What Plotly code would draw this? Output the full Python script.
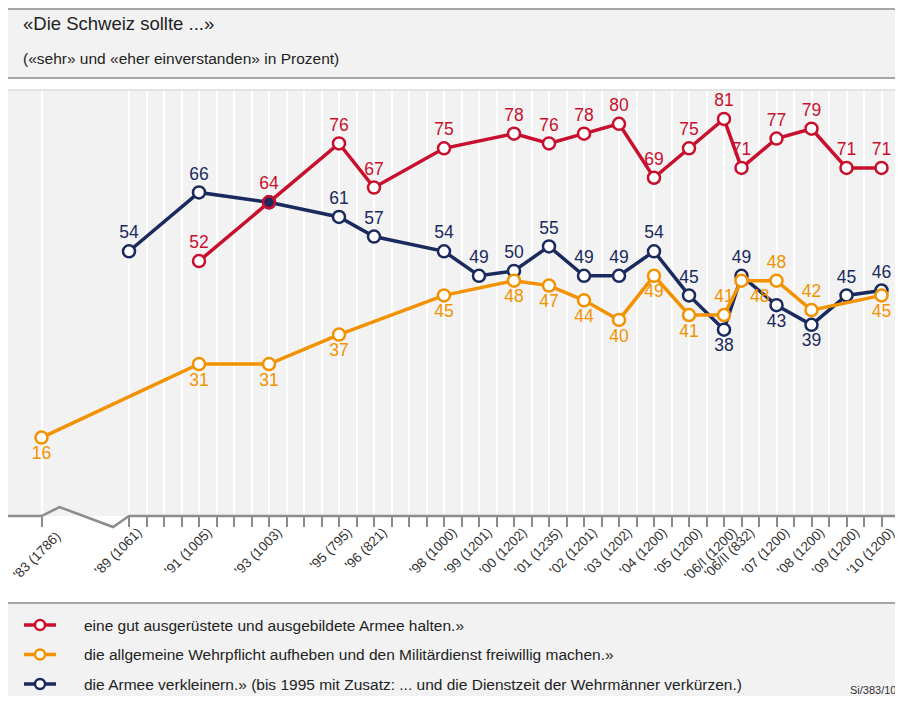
import plotly.graph_objects as go

# survey waves (year, sample size in label)
wellen = ["'83 (1786)", "'89 (1061)", "'91 (1005)", "'93 (1003)", "'95 (795)", "'96 (821)",
          "'98 (1000)", "'99 (1201)", "'00 (1202)", "'01 (1235)", "'02 (1201)", "'03 (1202)",
          "'04 (1200)", "'05 (1200)", "'06/I (1200)", "'06/II (832)", "'07 (1200)",
          "'08 (1200)", "'09 (1200)", "'10 (1200)"]
jahr = [1983, 1989, 1991, 1993, 1995, 1996, 1998, 1999, 2000, 2001, 2002, 2003,
        2004, 2005, 2006, 2006.5, 2007, 2008, 2009, 2010]

armee_halten = [None, None, 52, 64, 76, 67, 75, None, 78, 76, 78, 80, 69, 75, 81, 71, 77, 79, 71, 71]
wehrpflicht_aufheben = [16, None, 31, 31, 37, None, 45, None, 48, 47, 44, 40, 49, 41, 41, 48, 48, 42, None, 45]
armee_verkleinern = [None, 54, 66, 64, 61, 57, 54, 49, 50, 55, 49, 49, 54, 45, 38, 49, 43, 39, 45, 46]

legend_texts = ["eine gut ausgerüstete und ausgebildete Armee halten.»",
                "die allgemeine Wehrpflicht aufheben und den Militärdienst freiwillig machen.»",
                "die Armee verkleinern.» (bis 1995 mit Zusatz: ... und die Dienstzeit der Wehrmänner verkürzen.)"]

RED = "#c8102e"
ORANGE = "#f39200"
NAVY = "#1b2a5e"
FONT = "Liberation Sans, Arial, sans-serif"


#axis position: half-year slots from '89, extra slot for 06/II, axis break before '89
def slot(y):
    if y < 1989:
        return -5
    s = 2 * (y - 1989)
    if y >= 2007:
        s += 1
    return s


xs = [slot(y) for y in jahr]

#page has 8px body margin -> figure sits at (8,8) in the window, keep it inside (no scrollbar)
OFF = 8
W, H = 903 - OFF, 704 - 2 * OFF
PLOT_TOP, PLOT_BOT = 90, 516   # window pixels
T = PLOT_TOP - OFF
B = H - (PLOT_BOT - OFF)
PW = W
PH = PLOT_BOT - PLOT_TOP
SLOT_PX = 17.5
X0_PX = 129  # window pixel of slot 0
BOTTOM = OFF + H


def xp(px):
    return (px - OFF) / PW


def yp(py):
    return (PLOT_BOT - py) / PH


x_left = (OFF - X0_PX) / SLOT_PX
x_right = (903 - X0_PX) / SLOT_PX

fig = go.Figure()

#navy: labels above except a few below
pos_navy = ["top center"] * len(xs)
for i in [14, 16, 17]:
    pos_navy[i] = "bottom center"
txt_navy = ["" if v is None else str(v) for v in armee_verkleinern]
txt_navy[3] = ""
fig.add_trace(go.Scatter(
    x=xs, y=armee_verkleinern, mode="lines+markers+text", connectgaps=True,
    line=dict(color=NAVY, width=3.5),
    marker=dict(size=12, color="white", line=dict(color=NAVY, width=2.5)),
    text=txt_navy, textposition=pos_navy,
    textfont=dict(color=NAVY, size=17.5, family=FONT), cliponaxis=False, showlegend=False))

#orange: labels below except a few above
pos_or = ["bottom center"] * len(xs)
for i in [14, 16, 17]:
    pos_or[i] = "top center"
pos_or[15] = "bottom right"
fig.add_trace(go.Scatter(
    x=xs, y=wehrpflicht_aufheben, mode="lines+markers+text", connectgaps=True,
    line=dict(color=ORANGE, width=3.5),
    marker=dict(size=12, color="white", line=dict(color=ORANGE, width=2.5)),
    text=["" if v is None else str(v) for v in wehrpflicht_aufheben], textposition=pos_or,
    textfont=dict(color=ORANGE, size=17.5, family=FONT), cliponaxis=False, showlegend=False))

#red on top, '93 marker shows navy fill
red_fill = ["white"] * len(xs)
red_fill[3] = NAVY
fig.add_trace(go.Scatter(
    x=xs, y=armee_halten, mode="lines+markers+text", connectgaps=True,
    line=dict(color=RED, width=3.5),
    marker=dict(size=12, color=red_fill, line=dict(color=RED, width=2.5)),
    text=["" if v is None else str(v) for v in armee_halten], textposition="top center",
    textfont=dict(color=RED, size=17.5, family=FONT), cliponaxis=False, showlegend=False))

#ticks: '83 plus every half year from '89 ('83 text drawn separately so it stays inside the page)
tickvals = [-5] + list(range(0, 44))
ticktext = []
for t in tickvals:
    ticktext.append(wellen[xs.index(t)] if t in xs and t >= 0 else "")

shapes = [
    #title box
    dict(type="rect", xref="paper", yref="paper", x0=0, x1=1, y0=yp(78), y1=yp(OFF),
         fillcolor="#f2f2f2", line=dict(width=0), layer="below"),
    dict(type="line", xref="paper", yref="paper", x0=0, x1=1, y0=yp(OFF + 1), y1=yp(OFF + 1),
         line=dict(color="#a6a6a6", width=2)),
    dict(type="line", xref="paper", yref="paper", x0=0, x1=1, y0=yp(78), y1=yp(78),
         line=dict(color="#a6a6a6", width=2)),
    #top border of plot
    dict(type="line", xref="paper", yref="paper", x0=0, x1=1, y0=1, y1=1,
         line=dict(color="#cfcfcf", width=1)),
    #legend box
    dict(type="rect", xref="paper", yref="paper", x0=0, x1=1, y0=yp(BOTTOM), y1=yp(603),
         fillcolor="#f2f2f2", line=dict(width=0), layer="below"),
    dict(type="line", xref="paper", yref="paper", x0=0, x1=1, y0=yp(603), y1=yp(603),
         line=dict(color="#a6a6a6", width=2)),
    #baseline with axis break
    dict(type="path", xref="x", yref="paper",
         path="M %.3f,0 L -5,0 L -3.97,%.4f L -0.91,%.4f L 0,0 L %.3f,0" % (x_left, 9 / PH, -11 / PH, x_right),
         line=dict(color="#8c8c8c", width=2.5)),
]

annotations = [
    dict(text="«Die Schweiz sollte ...»", x=xp(21), y=yp(23), xref="paper", yref="paper",
         xanchor="left", yanchor="middle", showarrow=False,
         font=dict(size=18.5, color="#222222", family=FONT)),
    dict(text="(«sehr» und «eher einverstanden» in Prozent)", x=xp(21), y=yp(58), xref="paper", yref="paper",
         xanchor="left", yanchor="middle", showarrow=False,
         font=dict(size=15.5, color="#222222", family=FONT)),
    dict(text="Si/383/10", x=xp(898), y=yp(BOTTOM - 6), xref="paper", yref="paper",
         xanchor="right", yanchor="middle", showarrow=False,
         font=dict(size=11, color="#333333", family=FONT)),
    #'83 tick label
    dict(text=wellen[0], x=xp(OFF + 1), y=yp(528), xref="paper", yref="paper",
         xanchor="left", yanchor="top", showarrow=False, textangle=-45, borderpad=0,
         font=dict(size=13.5, color="#333333", family=FONT)),
]

#legend drawn by hand
for i, (txt, col) in enumerate(zip(legend_texts, [RED, ORANGE, NAVY])):
    ly = 625 + i * 29.5
    shapes.append(dict(type="line", xref="paper", yref="paper", x0=xp(24), x1=xp(56), y0=yp(ly), y1=yp(ly),
                       line=dict(color=col, width=3.5)))
    shapes.append(dict(type="circle", xref="paper", yref="paper", x0=xp(35), x1=xp(45),
                       y0=yp(ly + 5), y1=yp(ly - 5), fillcolor="white", line=dict(color=col, width=2.5)))
    annotations.append(dict(text=txt, x=xp(82), y=yp(ly), xref="paper", yref="paper",
                            xanchor="left", yanchor="middle", showarrow=False,
                            font=dict(size=15.5, color="#222222", family=FONT)))

fig.update_layout(
    width=W, height=H,
    margin=dict(l=0, r=0, t=T, b=B),
    paper_bgcolor="white",
    plot_bgcolor="#f2f2f2",
    shapes=shapes,
    annotations=annotations,
    xaxis=dict(range=[x_left, x_right], tickmode="array", tickvals=tickvals, ticktext=ticktext,
               tickangle=-45, ticks="outside", ticklen=10, tickcolor="#8c8c8c", tickwidth=1.5,
               ticklabeloverflow="allow", ticklabelstandoff=-8, ticklabelshift=9, automargin=False,
               showgrid=True, gridcolor="white", gridwidth=1.5, zeroline=False, showline=False,
               tickfont=dict(size=13.5, color="#333333", family=FONT)),
    yaxis=dict(range=[0, 86.9], visible=False, showgrid=False, zeroline=False, automargin=False),
)

fig.write_html("out.html")
